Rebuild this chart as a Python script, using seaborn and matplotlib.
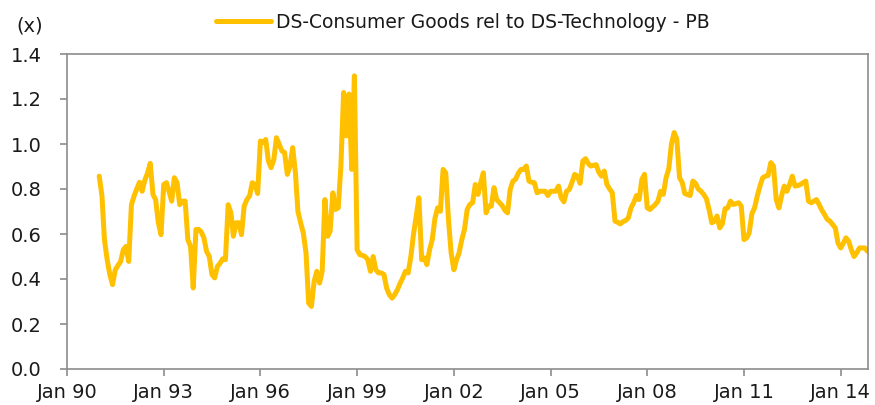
import matplotlib
matplotlib.use("Agg")
import matplotlib.pyplot as plt
import matplotlib.dates as mdates
import matplotlib.ticker as mticker
import seaborn as sns
import pandas as pd

# ── Data: monthly PB ratio, Consumer Goods relative to Technology ──
START_MONTH = "1991-01"
SERIES_LABEL = "DS-Consumer Goods rel to DS-Technology - PB"

rel_pb = [
    0.857, 0.77, 0.575, 0.486, 0.42, 0.375, 0.44, 0.46, 0.478, 0.53, 0.545, 0.478,   # 1991
    0.73, 0.77, 0.80, 0.83, 0.79, 0.84, 0.87, 0.914, 0.776, 0.753, 0.65, 0.597,      # 1992
    0.82, 0.828, 0.79, 0.746, 0.85, 0.828, 0.73, 0.746, 0.746, 0.575, 0.545, 0.36,   # 1993
    0.62, 0.62, 0.61, 0.583, 0.523, 0.50, 0.42, 0.405, 0.456, 0.47, 0.49, 0.486,     # 1994
    0.73, 0.694, 0.59, 0.65, 0.65, 0.597, 0.724, 0.753, 0.77, 0.828, 0.82, 0.78,     # 1995
    1.013, 1.006, 1.02, 0.924, 0.895, 0.93, 1.028, 0.999, 0.969, 0.962, 0.865, 0.902,  # 1996
    0.984, 0.872, 0.701, 0.65, 0.605, 0.516, 0.293, 0.278, 0.389, 0.434, 0.382, 0.434,  # 1997
    0.753, 0.59, 0.612, 0.783, 0.709, 0.716, 0.902, 1.229, 1.036, 1.222, 0.887, 1.303,  # 1998
    0.53, 0.508, 0.505, 0.50, 0.486, 0.434, 0.50, 0.441, 0.427, 0.427, 0.42, 0.36,   # 1999
    0.33, 0.315, 0.33, 0.352, 0.38, 0.405, 0.434, 0.427, 0.50, 0.60, 0.68, 0.761,    # 2000
    0.486, 0.494, 0.464, 0.53, 0.575, 0.67, 0.716, 0.701, 0.887, 0.872, 0.664, 0.516,  # 2001
    0.441, 0.486, 0.516, 0.575, 0.62, 0.709, 0.731, 0.739, 0.82, 0.776, 0.828, 0.872,  # 2002
    0.694, 0.724, 0.724, 0.806, 0.753, 0.74, 0.727, 0.706, 0.694, 0.798, 0.835, 0.843,  # 2003
    0.87, 0.887, 0.887, 0.902, 0.835, 0.83, 0.828, 0.783, 0.79, 0.79, 0.79, 0.771,   # 2004
    0.79, 0.79, 0.79, 0.813, 0.761, 0.743, 0.79, 0.798, 0.83, 0.865, 0.857, 0.825,   # 2005
    0.924, 0.935, 0.914, 0.902, 0.905, 0.908, 0.875, 0.857, 0.88, 0.82, 0.80, 0.783,  # 2006
    0.657, 0.652, 0.645, 0.655, 0.66, 0.672, 0.716, 0.74, 0.771, 0.753, 0.843, 0.865,  # 2007
    0.716, 0.709, 0.72, 0.731, 0.746, 0.79, 0.776, 0.85, 0.89, 1.0, 1.051, 1.021,    # 2008
    0.85, 0.828, 0.78, 0.775, 0.771, 0.835, 0.825, 0.80, 0.79, 0.776, 0.757, 0.709,  # 2009
    0.65, 0.657, 0.68, 0.627, 0.645, 0.713, 0.716, 0.746, 0.731, 0.735, 0.739, 0.724,  # 2010
    0.575, 0.583, 0.605, 0.691, 0.716, 0.77, 0.813, 0.85, 0.857, 0.86, 0.917, 0.902,  # 2011
    0.753, 0.716, 0.768, 0.813, 0.79, 0.82, 0.857, 0.813, 0.815, 0.82, 0.828, 0.835,  # 2012
    0.746, 0.739, 0.745, 0.753, 0.731, 0.706, 0.687, 0.665, 0.657, 0.642, 0.627, 0.56,  # 2013
    0.538, 0.56, 0.583, 0.568, 0.53, 0.50, 0.516, 0.538, 0.538, 0.538, 0.523,        # 2014
]

y_ticks = [0.0, 0.2, 0.4, 0.6, 0.8, 1.0, 1.2, 1.4]
x_tick_years = [1990, 1993, 1996, 1999, 2002, 2005, 2008, 2011, 2014]
x_start, x_end = "1990-01-01", "2014-11-06"

LINE_COLOR = "#FFC000"
AXIS_COLOR = "#8C8C8C"
TEXT_COLOR = "#1A1A1A"

df = pd.DataFrame({
    "date": pd.date_range(START_MONTH, periods=len(rel_pb), freq="MS"),
    "value": rel_pb,
})

sns.set_theme(style="white")
plt.rcParams["font.family"] = ["DejaVu Sans"]
plt.rcParams["font.size"] = 14

fig = plt.figure(figsize=(8.75, 4.05), dpi=100, facecolor="white")
ax = fig.add_axes([67 / 875, 1 - 369 / 405, (868 - 67) / 875, (369 - 54) / 405])

sns.lineplot(data=df, x="date", y="value", ax=ax, color=LINE_COLOR,
             linewidth=3.6, label=SERIES_LABEL, legend=False)

ax.set_xlim(pd.Timestamp(x_start), pd.Timestamp(x_end))
ax.set_ylim(y_ticks[0], y_ticks[-1])
ax.set_yticks(y_ticks)
ax.yaxis.set_major_formatter(mticker.FormatStrFormatter("%.1f"))
ax.set_xticks([pd.Timestamp(f"{y}-01-01") for y in x_tick_years])
ax.xaxis.set_major_formatter(mdates.DateFormatter("%b %y"))

ax.set_xlabel("")
ax.set_ylabel("")
for spine in ax.spines.values():
    spine.set_edgecolor(AXIS_COLOR)
    spine.set_linewidth(1.2)
ax.tick_params(axis="both", direction="out", length=5, width=1.2,
               color=AXIS_COLOR, labelcolor=TEXT_COLOR, labelsize=14)
ax.tick_params(axis="x", pad=5, bottom=True)
ax.tick_params(axis="y", pad=13, left=True)
ax.grid(False)

fig.text(43 / 875, 1 - 26 / 405, "(x)", ha="right", va="center",
         fontsize=14, color=TEXT_COLOR)

handles, labels = ax.get_legend_handles_labels()
fig.legend(handles, labels, loc="center", bbox_to_anchor=(463 / 875, 1 - 22 / 405),
           frameon=False, fontsize=13.5, handlelength=2.9, handletextpad=0.3,
           labelcolor=TEXT_COLOR)

fig.savefig("out.png", dpi=100, facecolor="white")
